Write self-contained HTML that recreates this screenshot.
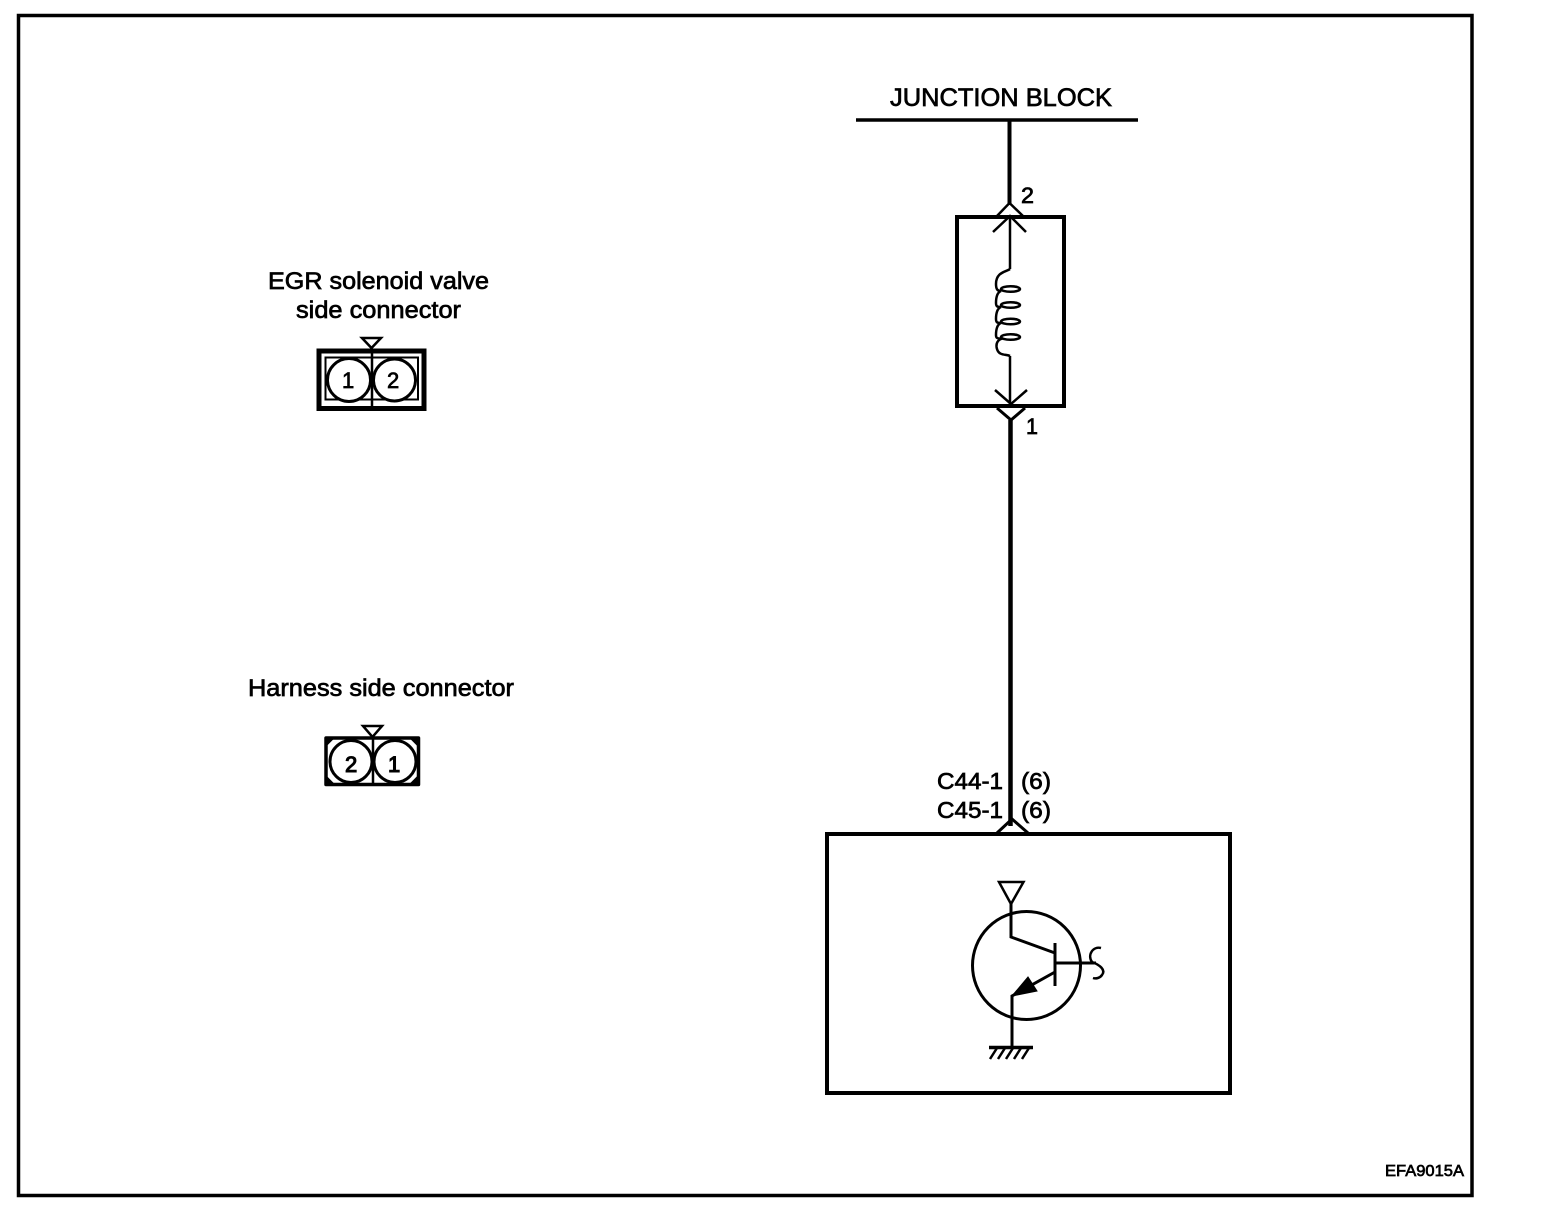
<!DOCTYPE html>
<html>
<head>
<meta charset="utf-8">
<style>
html,body{margin:0;padding:0;background:#fff;width:1568px;height:1214px;overflow:hidden}
svg{display:block}
text{font-family:"Liberation Sans",sans-serif;fill:#000;stroke:#000;stroke-width:.7}
</style>
</head>
<body>
<svg width="1568" height="1214" viewBox="0 0 1568 1214" xmlns="http://www.w3.org/2000/svg">
<rect width="1568" height="1214" fill="#fff"/>
<g fill="none" stroke="#000" stroke-linecap="butt">
<!-- frame -->
<rect x="18.500" y="15.500" width="1453.500" height="1180" stroke-width="3.500"/>
<!-- junction -->
<path d="M856 120H1138" stroke-width="3.500"/>
<path d="M1009.500 120V205" stroke-width="4"/>
<path d="M997 216L1009.500 203L1023 216" stroke-width="2.500"/>
<!-- relay box -->
<rect x="957" y="217" width="107" height="189" stroke-width="4"/>
<path d="M993 232L1010 216L1026 232" stroke-width="2.500"/>
<path d="M1010 217V269" stroke-width="2.500"/>
<path d="M1010 269C1006 272 996 272 996 284C996 290 998 291 1001 291C996 293 996 300 996 303C996 307 998 307 1001 307C996 309 996 316 996 319C996 323 998 323 1001 323C996 325 996 332 996 335C996 339 998 338 1001 339C996 341 996 346 997 349C999 356 1006 354 1010 356" stroke-width="2.500"/>
<ellipse cx="1010.500" cy="289" rx="9.500" ry="2.800" stroke-width="2.500"/>
<ellipse cx="1010.500" cy="305" rx="9.500" ry="2.800" stroke-width="2.500"/>
<ellipse cx="1010.500" cy="321.500" rx="9.500" ry="2.800" stroke-width="2.500"/>
<ellipse cx="1010.500" cy="337" rx="9.500" ry="2.800" stroke-width="2.500"/>
<path d="M1010 356V404" stroke-width="2.500"/>
<path d="M995 390L1011 404L1027 390" stroke-width="2.500"/>
<path d="M997 408L1011 420L1025 408" stroke-width="3"/>
<!-- long wire -->
<path d="M1010.500 420V826" stroke-width="4.500"/>
<!-- ECU box -->
<rect x="827" y="834" width="403" height="259" stroke-width="4"/>
<path d="M997 833L1012 819L1028 833" stroke-width="3"/>
<!-- transistor -->
<path d="M999 882H1023.500L1011 904Z" stroke-width="2.500"/>
<path d="M1011 904V937L1055 953" stroke-width="3"/>
<circle cx="1026.500" cy="965.500" r="54" stroke-width="3"/>
<path d="M1055 943V986" stroke-width="3"/>
<path d="M1055 963H1096" stroke-width="3"/>
<path d="M1055 972L1012 996V1047" stroke-width="3"/>
<path d="M1101 948C1093 946 1087 955 1092 962C1100 965 1106 970 1102 975C1100 978 1096 979 1093 978" stroke-width="2.500"/>
<path d="M989 1047.500H1033" stroke-width="3.500"/>
<path d="M997 1048L990 1059M1005 1048L998 1059M1013 1048L1006 1059M1021 1048L1014 1059M1029 1048L1022 1059" stroke-width="2.500"/>
<!-- connector top -->
<path d="M362 338H381L371.500 348Z" stroke-width="2.500"/>
<rect x="319" y="351" width="105" height="57.500" stroke-width="5"/>
<rect x="325.500" y="357.500" width="92.500" height="42" stroke-width="2"/>
<path d="M372 350V408" stroke-width="2.500"/>
<circle cx="349" cy="380" r="21.500" stroke-width="3" fill="#fff"/>
<circle cx="394.500" cy="380" r="21" stroke-width="3" fill="#fff"/>
<!-- connector bottom -->
<path d="M363 726H382L372.500 737Z" stroke-width="2.500"/>
<rect x="326" y="738" width="92.500" height="46.500" stroke-width="3.500" stroke-linejoin="round"/>
<path d="M327 739L333 739L327 745ZM417 739L411 739L417 745ZM327 783L333 783L327 777ZM417 783L411 783L417 777Z" fill="#000" stroke-width="1"/>
<path d="M373 738V784" stroke-width="2.500"/>
<circle cx="351" cy="761.500" r="21" stroke-width="3" fill="#fff"/>
<circle cx="395" cy="761.500" r="21" stroke-width="3" fill="#fff"/>
</g>
<path d="M1012 996L1028 977L1037 991Z" fill="#000" stroke="#000" stroke-width="1"/>
<text x="890" y="106" font-size="25" textLength="222" lengthAdjust="spacingAndGlyphs">JUNCTION BLOCK</text>
<text x="1021" y="203" font-size="22" textLength="13" lengthAdjust="spacingAndGlyphs">2</text>
<text x="1026" y="434" font-size="22" textLength="12" lengthAdjust="spacingAndGlyphs">1</text>
<text x="268" y="289" font-size="24" textLength="221" lengthAdjust="spacingAndGlyphs">EGR solenoid valve</text>
<text x="296" y="318" font-size="24" textLength="165" lengthAdjust="spacingAndGlyphs">side connector</text>
<text x="248" y="696" font-size="24" textLength="266" lengthAdjust="spacingAndGlyphs">Harness side connector</text>
<text x="342" y="388" font-size="22" stroke-width="1">1</text>
<text x="387" y="388" font-size="22" stroke-width="1">2</text>
<text x="345" y="772" font-size="22" style="stroke-width:1.100">2</text>
<text x="388" y="772" font-size="22" style="stroke-width:1.100">1</text>
<text x="937" y="789" font-size="23" textLength="66" lengthAdjust="spacingAndGlyphs">C44-1</text>
<text x="1021" y="789" font-size="23" textLength="30" lengthAdjust="spacingAndGlyphs">(6)</text>
<text x="937" y="818" font-size="23" textLength="66" lengthAdjust="spacingAndGlyphs">C45-1</text>
<text x="1021" y="818" font-size="23" textLength="30" lengthAdjust="spacingAndGlyphs">(6)</text>
<text x="1385" y="1176" font-size="16" textLength="79" lengthAdjust="spacingAndGlyphs">EFA9015A</text>
</svg>
</body>
</html>
